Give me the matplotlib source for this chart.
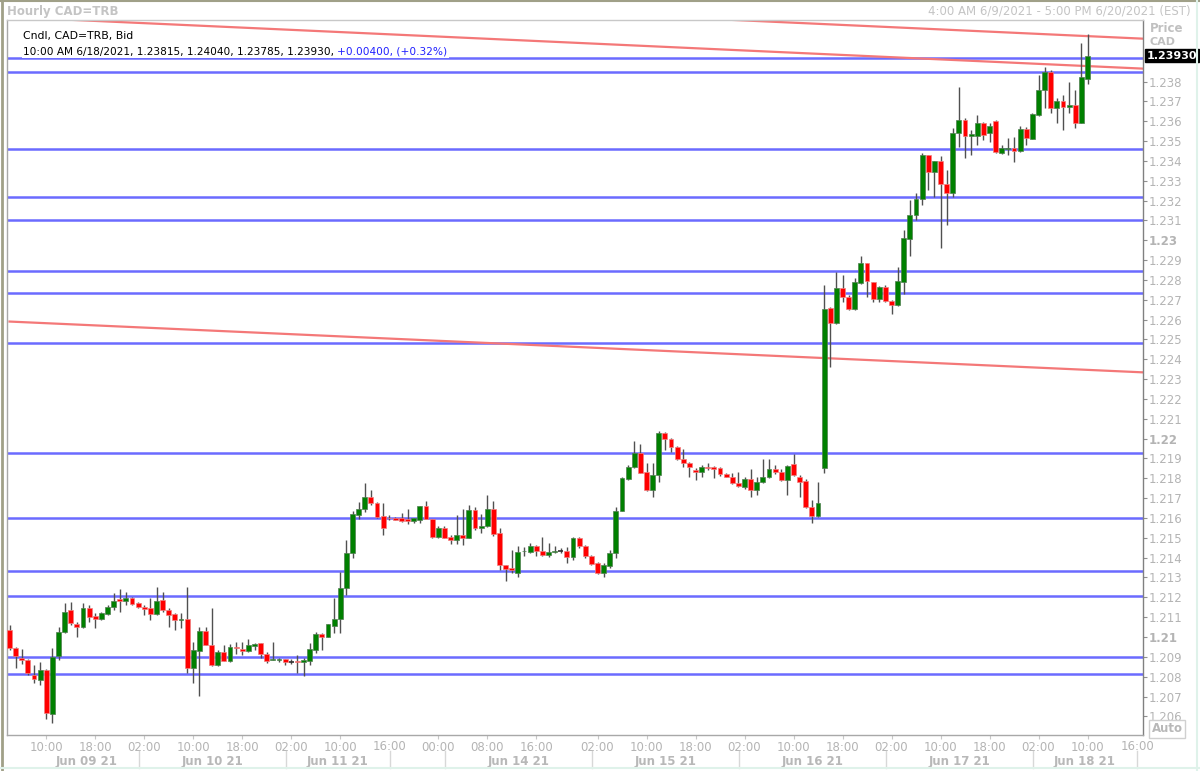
import numpy as np
import pandas as pd
import matplotlib
matplotlib.use("Agg")
import matplotlib.pyplot as plt
import matplotlib.transforms as mtransforms
from matplotlib.lines import Line2D

# hourly CAD=TRB candles, Jun 9 04:00 .. Jun 18 10:00 (weekend removed)
opens = [
    1.21035, 1.20945, 1.20894, 1.20884, 1.20808, 1.20783, 1.20834, 1.20612, 1.20904, 1.21025,
    1.21136, 1.21066, 1.21050, 1.21146, 1.21106, 1.21091, 1.21116, 1.21151, 1.21192, 1.21181,
    1.21197, 1.21171, 1.21151, 1.21146, 1.21116, 1.21186, 1.21136, 1.21116, 1.21086, 1.21091,
    1.20844, 1.20929, 1.21030, 1.20960, 1.20859, 1.20924, 1.20879, 1.20950, 1.20940, 1.20929,
    1.20955, 1.20970, 1.20914, 1.20884, 1.20884, 1.20889, 1.20876, 1.20879, 1.20874, 1.20879,
    1.20934, 1.21015, 1.21000, 1.21055, 1.21091, 1.21247, 1.21423, 1.21615, 1.21645, 1.21706,
    1.21675, 1.21610, 1.21600, 1.21600, 1.21600, 1.21595, 1.21585, 1.21590, 1.21660, 1.21595,
    1.21504, 1.21549, 1.21504, 1.21489, 1.21514, 1.21499, 1.21640, 1.21549, 1.21559, 1.21645,
    1.21524, 1.21363, 1.21348, 1.21323, 1.21431, 1.21428, 1.21459, 1.21433, 1.21413, 1.21428,
    1.21433, 1.21433, 1.21403, 1.21499, 1.21459, 1.21408, 1.21373, 1.21323, 1.21358, 1.21423,
    1.21635, 1.21796, 1.21857, 1.21927, 1.21832, 1.21741, 1.21816, 1.22028, 1.21998, 1.21958,
    1.21897, 1.21877, 1.21842, 1.21832, 1.21857, 1.21857, 1.21852, 1.21822, 1.21806, 1.21776,
    1.21756, 1.21796, 1.21741, 1.21781, 1.21806, 1.21847, 1.21832, 1.21791, 1.21872, 1.21806,
    1.21786, 1.21655, 1.21610, 1.21852, 1.22658, 1.22583, 1.22759, 1.22714, 1.22653, 1.22784,
    1.22885, 1.22789, 1.22704, 1.22764, 1.22693, 1.22673, 1.22789, 1.23006, 1.23127, 1.23208,
    1.23429, 1.23344, 1.23399, 1.23283, 1.23238, 1.23540, 1.23606, 1.23525, 1.23525, 1.23591,
    1.23540, 1.23601, 1.23439, 1.23462, 1.23465, 1.23449, 1.23560, 1.23510, 1.23631, 1.23757,
    1.23848, 1.23666, 1.23701, 1.23671, 1.23681, 1.23591, 1.23815]
highs = [
    1.21060, 1.20950, 1.20940, 1.20890, 1.20859, 1.20874, 1.20840, 1.20945, 1.21050, 1.21171,
    1.21176, 1.21076, 1.21171, 1.21161, 1.21121, 1.21126, 1.21161, 1.21222, 1.21242, 1.21227,
    1.21200, 1.21176, 1.21161, 1.21197, 1.21252, 1.21227, 1.21146, 1.21121, 1.21121, 1.21252,
    1.20975, 1.21050, 1.21050, 1.21146, 1.20934, 1.20960, 1.20965, 1.20975, 1.20975, 1.20990,
    1.20970, 1.20972, 1.20924, 1.20975, 1.20894, 1.20891, 1.20889, 1.20909, 1.20894, 1.20970,
    1.21025, 1.21020, 1.21068, 1.21197, 1.21328, 1.21489, 1.21635, 1.21680, 1.21776, 1.21741,
    1.21680, 1.21675, 1.21615, 1.21605, 1.21625, 1.21645, 1.21602, 1.21662, 1.21685, 1.21597,
    1.21559, 1.21559, 1.21514, 1.21615, 1.21645, 1.21665, 1.21655, 1.21620, 1.21716, 1.21685,
    1.21549, 1.21365, 1.21438, 1.21459, 1.21454, 1.21474, 1.21464, 1.21504, 1.21474, 1.21459,
    1.21449, 1.21454, 1.21504, 1.21504, 1.21464, 1.21413, 1.21378, 1.21373, 1.21438, 1.21655,
    1.21806, 1.21867, 1.21988, 1.21973, 1.21877, 1.21877, 1.22038, 1.22033, 1.22003, 1.21963,
    1.21948, 1.21882, 1.21852, 1.21867, 1.21877, 1.21862, 1.21857, 1.21827, 1.21827, 1.21832,
    1.21806, 1.21847, 1.21806, 1.21897, 1.21897, 1.21867, 1.21847, 1.21867, 1.21922, 1.21816,
    1.21796, 1.21690, 1.21781, 1.22774, 1.22663, 1.22840, 1.22824, 1.22724, 1.22809, 1.22920,
    1.22887, 1.22791, 1.22769, 1.22774, 1.22698, 1.22865, 1.23051, 1.23202, 1.23238, 1.23439,
    1.23431, 1.23401, 1.23424, 1.23354, 1.23565, 1.23772, 1.23616, 1.23555, 1.23631, 1.23596,
    1.23591, 1.23606, 1.23480, 1.23515, 1.23520, 1.23575, 1.23570, 1.23641, 1.23832, 1.23873,
    1.23858, 1.23717, 1.23732, 1.23797, 1.23757, 1.23994, 1.24040]
lows = [
    1.20934, 1.20844, 1.20864, 1.20808, 1.20768, 1.20758, 1.20587, 1.20567, 1.20884, 1.21020,
    1.21060, 1.21000, 1.21045, 1.21076, 1.21045, 1.21086, 1.21111, 1.21136, 1.21126, 1.21161,
    1.21161, 1.21148, 1.21111, 1.21086, 1.21111, 1.21126, 1.21050, 1.21035, 1.21045, 1.20819,
    1.20768, 1.20703, 1.20958, 1.20855, 1.20854, 1.20879, 1.20874, 1.20914, 1.20909, 1.20924,
    1.20934, 1.20894, 1.20869, 1.20882, 1.20874, 1.20859, 1.20864, 1.20819, 1.20803, 1.20859,
    1.20919, 1.20934, 1.20998, 1.21020, 1.21020, 1.21212, 1.21398, 1.21595, 1.21630, 1.21665,
    1.21602, 1.21514, 1.21590, 1.21588, 1.21580, 1.21570, 1.21575, 1.21575, 1.21593, 1.21499,
    1.21499, 1.21497, 1.21469, 1.21469, 1.21464, 1.21497, 1.21539, 1.21524, 1.21554, 1.21509,
    1.21338, 1.21282, 1.21323, 1.21302, 1.21408, 1.21423, 1.21408, 1.21408, 1.21403, 1.21423,
    1.21423, 1.21373, 1.21388, 1.21449, 1.21398, 1.21363, 1.21318, 1.21302, 1.21348, 1.21398,
    1.21633, 1.21791, 1.21852, 1.21825, 1.21736, 1.21706, 1.21781, 1.21942, 1.21932, 1.21892,
    1.21857, 1.21806, 1.21791, 1.21806, 1.21842, 1.21801, 1.21811, 1.21804, 1.21771, 1.21756,
    1.21746, 1.21706, 1.21716, 1.21776, 1.21801, 1.21822, 1.21786, 1.21716, 1.21811, 1.21706,
    1.21650, 1.21575, 1.21605, 1.21827, 1.22361, 1.22580, 1.22688, 1.22650, 1.22650, 1.22779,
    1.22714, 1.22688, 1.22688, 1.22688, 1.22628, 1.22670, 1.22729, 1.22920, 1.23102, 1.23177,
    1.23253, 1.23218, 1.22961, 1.23076, 1.23218, 1.23470, 1.23414, 1.23429, 1.23480, 1.23505,
    1.23495, 1.23439, 1.23437, 1.23429, 1.23394, 1.23444, 1.23480, 1.23508, 1.23626, 1.23666,
    1.23641, 1.23591, 1.23555, 1.23641, 1.23565, 1.23589, 1.23785]
closes = [
    1.20945, 1.20904, 1.20884, 1.20819, 1.20788, 1.20834, 1.20617, 1.20899, 1.21025, 1.21126,
    1.21071, 1.21050, 1.21146, 1.21101, 1.21091, 1.21121, 1.21151, 1.21181, 1.21181, 1.21197,
    1.21166, 1.21151, 1.21141, 1.21116, 1.21181, 1.21136, 1.21111, 1.21086, 1.21091, 1.20844,
    1.20934, 1.21030, 1.20960, 1.20859, 1.20924, 1.20879, 1.20950, 1.20945, 1.20929, 1.20960,
    1.20965, 1.20914, 1.20879, 1.20889, 1.20889, 1.20874, 1.20875, 1.20874, 1.20884, 1.20940,
    1.21015, 1.21000, 1.21066, 1.21091, 1.21247, 1.21423, 1.21620, 1.21645, 1.21706, 1.21675,
    1.21605, 1.21549, 1.21598, 1.21590, 1.21587, 1.21585, 1.21600, 1.21660, 1.21595, 1.21504,
    1.21549, 1.21499, 1.21489, 1.21514, 1.21499, 1.21640, 1.21549, 1.21559, 1.21645, 1.21519,
    1.21363, 1.21343, 1.21338, 1.21428, 1.21433, 1.21459, 1.21433, 1.21413, 1.21428, 1.21433,
    1.21434, 1.21403, 1.21499, 1.21459, 1.21408, 1.21368, 1.21323, 1.21363, 1.21423, 1.21635,
    1.21801, 1.21857, 1.21927, 1.21827, 1.21741, 1.21816, 1.22028, 1.21998, 1.21958, 1.21897,
    1.21877, 1.21857, 1.21832, 1.21857, 1.21852, 1.21847, 1.21822, 1.21806, 1.21776, 1.21761,
    1.21796, 1.21741, 1.21781, 1.21806, 1.21847, 1.21832, 1.21791, 1.21862, 1.21816, 1.21781,
    1.21655, 1.21610, 1.21675, 1.22653, 1.22583, 1.22759, 1.22714, 1.22653, 1.22789, 1.22885,
    1.22794, 1.22704, 1.22764, 1.22693, 1.22673, 1.22794, 1.23011, 1.23127, 1.23208, 1.23429,
    1.23344, 1.23399, 1.23283, 1.23238, 1.23540, 1.23606, 1.23525, 1.23535, 1.23591, 1.23530,
    1.23575, 1.23444, 1.23465, 1.23465, 1.23449, 1.23560, 1.23515, 1.23636, 1.23757, 1.23848,
    1.23666, 1.23701, 1.23671, 1.23681, 1.23591, 1.23822, 1.23930]

# horizontal support/resistance lines (blue)
levels = [1.23920, 1.23850, 1.23462, 1.23220, 1.23100, 1.22843, 1.22732, 1.22480,
          1.21926, 1.21599, 1.21332, 1.21206, 1.20899, 1.20814]
# trend lines (red): price at slot 0 and at slot 185
trend_start = [1.24125, 1.24277, 1.22590]
trend_end = [1.23865, 1.24016, 1.22334]

hour_ticks = ['2021-06-09 10:00', '2021-06-09 18:00', '2021-06-10 02:00', '2021-06-10 10:00',
              '2021-06-10 18:00', '2021-06-11 02:00', '2021-06-11 10:00', '2021-06-14 00:00',
              '2021-06-14 08:00', '2021-06-14 16:00', '2021-06-15 02:00', '2021-06-15 10:00',
              '2021-06-15 18:00', '2021-06-16 02:00', '2021-06-16 10:00', '2021-06-16 18:00',
              '2021-06-17 02:00', '2021-06-17 10:00', '2021-06-17 18:00', '2021-06-18 02:00',
              '2021-06-18 10:00']
day_starts = ['2021-06-10 00:00', '2021-06-11 00:00', '2021-06-13 15:00', '2021-06-14 00:00',
              '2021-06-15 00:00', '2021-06-16 00:00', '2021-06-17 00:00', '2021-06-18 00:00',
              '2021-06-18 17:00']
day_labels = ['Jun 09 21', 'Jun 10 21', 'Jun 11 21', '', 'Jun 14 21', 'Jun 15 21',
              'Jun 16 21', 'Jun 17 21', 'Jun 18 21']

# hourly slots with the weekend gap closed
slots = pd.date_range('2021-06-09 04:00', '2021-06-11 16:00', freq='h').append(
    pd.date_range('2021-06-13 15:00', '2021-06-18 17:00', freq='h'))
slot_of = {t: k for k, t in enumerate(slots)}

o = np.array(opens); h = np.array(highs); l = np.array(lows); c = np.array(closes)
x = np.arange(len(o))

fig = plt.figure(figsize=(12, 7.71), dpi=100)
ax = fig.add_axes([7 / 1200, 36 / 771, 1136 / 1200, 715 / 771])
ax.set_xlim(-0.41, 185.06)
ax.set_ylim(1.20506, 1.24110)

for lv in levels:
    ax.axhline(lv, color='#6b6bff', lw=1.8, zorder=1)
for a, b in zip(trend_start, trend_end):
    ax.plot([0, 185], [a, b], color='#f47878', lw=1.6, zorder=1)

# candles
ax.vlines(x, l, h, color='#505050', lw=1, zorder=2)
up = c > o + 0.00001
dn = c < o - 0.00001
body_lo = np.minimum(o, c)
body_h = np.maximum(np.abs(c - o), 0.00004)
ax.bar(x[up], body_h[up], bottom=body_lo[up], width=0.8, color='#008000',
       edgecolor='#4f7f4f', lw=0.5, zorder=3)
ax.bar(x[dn], body_h[dn], bottom=body_lo[dn], width=0.8, color='#ff0000',
       edgecolor='#f08080', lw=0.5, zorder=3)
flat = ~(up | dn)
ax.hlines(c[flat], x[flat] - 0.4, x[flat] + 0.4, color='#303030', lw=1.2, zorder=3)

# spines
for side, col in [('left', '#a8a8a8'), ('top', '#c8c8c8'), ('right', '#808080'), ('bottom', '#a8a8a8')]:
    ax.spines[side].set_color(col)
    ax.spines[side].set_linewidth(1)

# y axis on the right (1.239 sits under the last-price box)
yt = np.round(np.arange(1.206, 1.2385, 0.001), 3)
ax.yaxis.tick_right()
ax.set_yticks(yt)
ax.set_yticklabels([('%.3f' % v).rstrip('0') for v in yt])
ax.tick_params(axis='y', length=3, color='#909090', labelcolor='#b4b4b4', labelsize=8.5, pad=1)
for t, v in zip(ax.get_yticklabels(), yt):
    if abs(v * 100 - round(v * 100)) < 1e-6:
        t.set_fontweight('bold')

# x axis: hour labels
ax.set_xticks([slot_of[pd.Timestamp(t)] for t in hour_ticks])
ax.set_xticklabels([t[-5:] for t in hour_ticks])
ax.tick_params(axis='x', length=3, color='#c8c8c8', labelcolor='#b4b4b4', labelsize=8.5, pad=1)

trans = mtransforms.blended_transform_factory(ax.transData, fig.transFigure)
seps = [slot_of[pd.Timestamp(t)] + 1.1 for t in day_starts]
for s in seps:
    ax.add_line(Line2D([s, s], [3 / 771, 20 / 771], transform=trans, color='#d8d8d8', lw=1, clip_on=False))
for s in [seps[2], seps[-1]]:
    ax.text(s, 25 / 771, '16:00', transform=trans, ha='center', va='center', color='#b4b4b4', fontsize=8.5)
bounds = [-0.41] + seps
for k, lab in enumerate(day_labels):
    mid = (bounds[k] + bounds[k + 1]) / 2
    if k == 0:
        mid += 2.3
    ax.text(mid, 10 / 771, lab, transform=trans, ha='center', va='center', color='#b8b8b8',
            fontsize=8.5, fontweight='bold')

# legend text in the plot
ax.text(16 / 1136, 1 - 16 / 715, 'Cndl, CAD=TRB, Bid', transform=ax.transAxes,
        fontsize=7.8, color='black', va='center', zorder=5,
        bbox=dict(facecolor='white', edgecolor='none', pad=1))
t2 = ax.text(16 / 1136, 1 - 35 / 715, '10:00 AM 6/18/2021, 1.23815, 1.24040, 1.23785, 1.23930, ',
             transform=ax.transAxes, fontsize=7.6, color='black', va='baseline', zorder=5,
             bbox=dict(facecolor='white', edgecolor='none', pad=1))
ax.annotate('+0.00400, (+0.32%)', xy=(1, 0), xycoords=t2, fontsize=7.6, color='#2020ff',
            va='bottom', zorder=5, bbox=dict(facecolor='white', edgecolor='none', pad=1))

# header texts
fig.text(7 / 1200, 1 - 11 / 771, 'Hourly CAD=TRB', color='#c4c4c4', fontsize=8.5, fontweight='bold', va='center')
fig.text(1191 / 1200, 1 - 11 / 771, '4:00 AM 6/9/2021 - 5:00 PM 6/20/2021 (EST)', color='#c4c4c4',
         fontsize=8.5, ha='right', va='center')
fig.text(1150 / 1200, 1 - 29 / 771, 'Price', color='#c0c0c0', fontsize=8.5, fontweight='bold', va='center')
fig.text(1150 / 1200, 1 - 42 / 771, 'CAD', color='#c0c0c0', fontsize=8, fontweight='bold', va='center')

# last price box
ytr = mtransforms.blended_transform_factory(fig.transFigure, ax.transData)
ax.text(1147 / 1200, closes[-1], '%.5f' % closes[-1], transform=ytr, color='white', fontsize=8,
        fontweight='bold', va='center', ha='left', zorder=10, clip_on=False,
        bbox=dict(facecolor='black', edgecolor='black', pad=1.2))

# auto button
fig.text(1167 / 1200, 1 - 729 / 771, 'Auto', color='#b8b8b8', fontsize=8.5, fontweight='bold',
         ha='center', va='center', bbox=dict(facecolor='white', edgecolor='#d0d0d0', pad=1.5))

# outer frame
fig.add_artist(Line2D([0.002, 0.002], [0, 1], color='#a0a088', lw=2))
fig.add_artist(Line2D([0, 1], [0.999, 0.999], color='#a0a088', lw=1.5))
fig.add_artist(Line2D([0, 1], [3 / 771, 3 / 771], color='#dff2ea', lw=1.5))
fig.add_artist(Line2D([0.9975, 0.9975], [0, 1], color='#dff2ea', lw=1.5))

fig.savefig('out.png', dpi=100)
